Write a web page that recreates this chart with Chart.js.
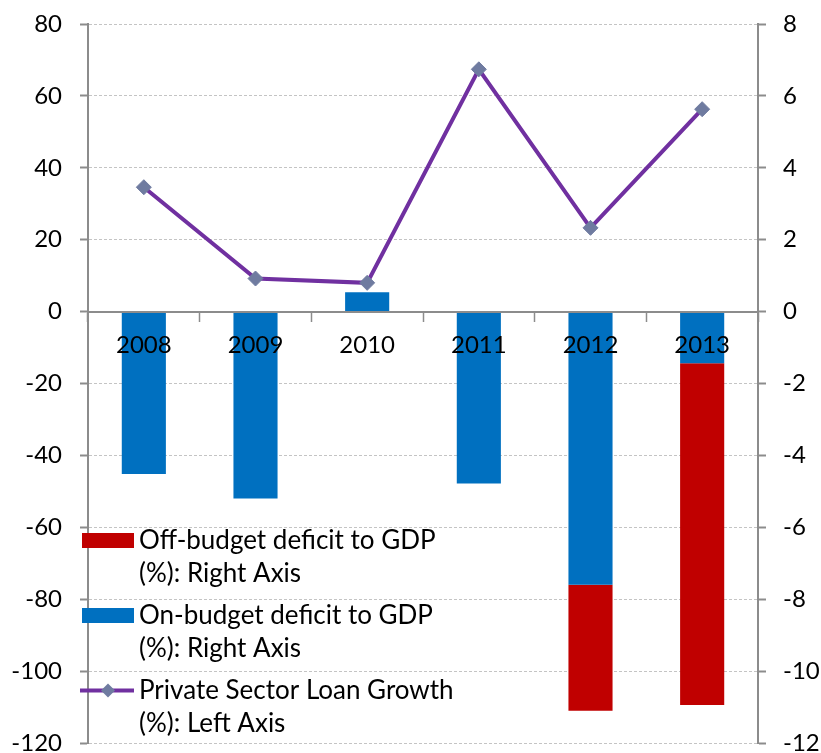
<!DOCTYPE html>
<html>
<head>
<meta charset="utf-8">
<script src="https://cdn.jsdelivr.net/npm/chart.js@4/dist/chart.umd.min.js"></script>
<style>
  html, body { margin: 0; padding: 0; background: #ffffff; }
  #wrap { width: 821px; height: 753px; }
</style>
</head>
<body>
<div id="wrap"><canvas id="chart" width="821" height="753"></canvas></div>
<script>
// Years on the category axis
const years = ['2008', '2009', '2010', '2011', '2012', '2013'];

// Budget deficits, % of GDP (right axis)
const onBudgetDeficit = [-4.52, -5.2, 0.54, -4.78, -7.6, -1.44];
const offBudgetDeficit = [0, 0, 0, 0, -3.5, -9.5];

// Private sector loan growth, % (left axis)
const loanGrowth = [34.6, 9.2, 8.0, 67.4, 23.3, 56.3];

// Axis ticks
const leftTicks = [-120, -100, -80, -60, -40, -20, 0, 20, 40, 60, 80];
const rightTicks = [-12, -10, -8, -6, -4, -2, 0, 2, 4, 6, 8];

// Legend entries, two lines each
const legendItems = [
  { lines: ['Off-budget deficit to GDP', '(%): Right Axis'], kind: 'box', color: '#C00000' },
  { lines: ['On-budget deficit to GDP', '(%): Right Axis'], kind: 'box', color: '#0070C0' },
  { lines: ['Private Sector Loan Growth', '(%): Left Axis'], kind: 'line', color: '#7030A0', marker: '#6F7BA0' }
];

const FONT = 'Lato, "DejaVu Sans", sans-serif';
const AXIS_GRAY = '#8C8C8C';
const GRID_GRAY = '#C4C4C4';

// Two-line legend drawn inside the lower-left of the plot
const insideLegend = {
  id: 'insideLegend',
  afterDraw(chart) {
    const ctx = chart.ctx;
    const left = 82, boxW = 52, textX = 139;
    const firstTop = 533, step = 75, lineGap = 33;
    ctx.save();
    ctx.font = '26px ' + FONT;
    ctx.fillStyle = '#000000';
    ctx.textBaseline = 'alphabetic';
    ctx.textAlign = 'left';
    legendItems.forEach((item, i) => {
      const top = firstTop + i * step;
      if (item.kind === 'box') {
        ctx.fillStyle = item.color;
        ctx.fillRect(left, top, boxW, 15);
      } else {
        const cy = top + 7.5;
        ctx.strokeStyle = item.color;
        ctx.lineWidth = 4;
        ctx.beginPath();
        ctx.moveTo(left - 2, cy);
        ctx.lineTo(left + boxW, cy);
        ctx.stroke();
        ctx.fillStyle = item.marker;
        const cx = left + boxW / 2;
        ctx.beginPath();
        ctx.moveTo(cx - 7, cy);
        ctx.lineTo(cx, cy - 7);
        ctx.lineTo(cx + 7, cy);
        ctx.lineTo(cx, cy + 7);
        ctx.closePath();
        ctx.fill();
      }
      ctx.fillStyle = '#000000';
      item.lines.forEach((txt, j) => {
        ctx.fillText(txt, textX, top + 16 + j * lineGap);
      });
    });
    ctx.restore();
  }
};

new Chart(document.getElementById('chart'), {
  data: {
    labels: years,
    datasets: [
      {
        type: 'line',
        label: 'Private Sector Loan Growth (%): Left Axis',
        data: loanGrowth,
        yAxisID: 'y',
        borderColor: '#7030A0',
        borderWidth: 4,
        pointStyle: 'rectRot',
        pointRadius: 7.5,
        pointBackgroundColor: '#6F7BA0',
        pointBorderColor: '#6F7BA0',
        pointBorderWidth: 1,
        tension: 0,
        order: 0
      },
      {
        type: 'bar',
        label: 'On-budget deficit to GDP (%): Right Axis',
        data: onBudgetDeficit,
        yAxisID: 'y1',
        backgroundColor: '#0070C0',
        categoryPercentage: 1,
        barPercentage: 0.395,
        order: 1
      },
      {
        type: 'bar',
        label: 'Off-budget deficit to GDP (%): Right Axis',
        data: offBudgetDeficit,
        yAxisID: 'y1',
        backgroundColor: '#C00000',
        categoryPercentage: 1,
        barPercentage: 0.395,
        order: 2
      }
    ]
  },
  options: {
    responsive: false,
    devicePixelRatio: 1,
    animation: false,
    layout: { padding: { top: 24, bottom: 10, left: 0, right: 0 } },
    plugins: {
      legend: { display: false },
      tooltip: { enabled: false }
    },
    scales: {
      x: {
        type: 'category',
        position: { y: 0 },
        stacked: true,
        offset: true,
        grid: {
          offset: true,
          drawOnChartArea: false,
          drawTicks: true,
          tickLength: 9,
          tickColor: AXIS_GRAY,
          tickWidth: 1.5
        },
        border: { display: true, color: AXIS_GRAY, width: 2, z: 1 },
        ticks: {
          z: 1,
          color: '#000000',
          padding: 10,
          maxRotation: 0,
          font: { family: FONT, size: 24 }
        }
      },
      y: {
        position: 'left',
        min: -120,
        max: 80,
        afterBuildTicks: (s) => { s.ticks = leftTicks.map(v => ({ value: v })); },
        afterFit: (s) => { s.width = 88; s.paddingTop = 0; s.paddingBottom = 0; },
        grid: {
          color: GRID_GRAY,
          lineWidth: 1,
          tickLength: 8,
          tickColor: AXIS_GRAY,
          tickWidth: 2
        },
        border: { display: true, color: AXIS_GRAY, width: 2, dash: [3, 2] },
        ticks: {
          color: '#000000',
          padding: 18,
          font: { family: FONT, size: 24 }
        }
      },
      y1: {
        position: 'right',
        min: -12,
        max: 8,
        stacked: true,
        afterBuildTicks: (s) => { s.ticks = rightTicks.map(v => ({ value: v })); },
        afterFit: (s) => { s.width = 63; s.paddingTop = 0; s.paddingBottom = 0; },
        grid: {
          drawOnChartArea: false,
          tickLength: 8,
          tickColor: AXIS_GRAY,
          tickWidth: 2
        },
        border: { display: true, color: AXIS_GRAY, width: 2 },
        ticks: {
          color: '#000000',
          padding: 17,
          font: { family: FONT, size: 24 }
        }
      }
    }
  },
  plugins: [insideLegend]
});
</script>
</body>
</html>
